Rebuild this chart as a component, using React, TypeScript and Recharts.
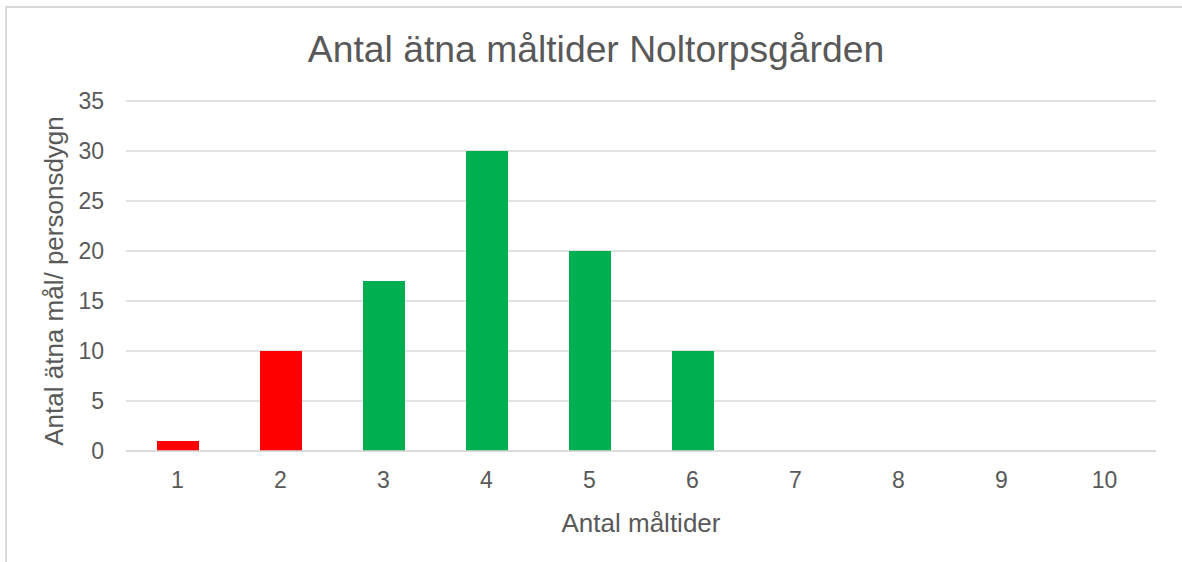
import React from 'react';
import { BarChart, Bar, XAxis, YAxis, CartesianGrid, Cell } from 'recharts';

const categories = ['1', '2', '3', '4', '5', '6', '7', '8', '9', '10'];
const mealCounts = [1, 10, 17, 30, 20, 10, 0, 0, 0, 0];
const yTicks = [0, 5, 10, 15, 20, 25, 30, 35];

const title = 'Antal ätna måltider Noltorpsgården';
const xTitle = 'Antal måltider';
const yTitle = 'Antal ätna mål/ personsdygn';

const RED = '#FF0000';
const GREEN = '#00B050';
const TEXT = '#595959';
const GRID = '#D9D9D9';
const FONT = '"Liberation Sans", Arial, sans-serif';

const data = categories.map((c, i) => ({ name: c, value: mealCounts[i] }));

const App: React.FC = () => {
  return (
    <div style={{ position: 'absolute', left: 0, top: 0, width: 1182, height: 562, overflow: 'hidden', background: '#fff', fontFamily: FONT }}>
      <div style={{ position: 'absolute', left: 5, top: 6, width: 1300, height: 700, border: `2px solid ${GRID}`, boxSizing: 'border-box' }} />
      <svg width={1182} height={80} style={{ position: 'absolute', left: 0, top: 0 }}>
        <text x={596} y={62} textAnchor="middle" fill={TEXT} fontSize={37.3} fontFamily={FONT}>
          {title}
        </text>
      </svg>
      <div style={{ position: 'absolute', left: 0, top: 0 }}>
        <BarChart width={1182} height={562} data={data} margin={{ top: 101, right: 26, bottom: 0, left: 10 }} barSize={42}>
          <CartesianGrid vertical={false} stroke={GRID} strokeWidth={1.5} />
          <XAxis
            dataKey="name"
            height={111}
            axisLine={{ stroke: GRID, strokeWidth: 1.5 }}
            tickLine={false}
            tickMargin={15}
            tick={{ fill: TEXT, fontSize: 23, fontFamily: FONT }}
            label={{ value: xTitle, position: 'insideBottom', offset: 30, fill: TEXT, fontSize: 26, fontFamily: FONT }}
          />
          <YAxis
            width={116}
            domain={[0, 35]}
            ticks={yTicks}
            axisLine={false}
            tickLine={false}
            tickMargin={16}
            tick={{ fill: TEXT, fontSize: 23, fontFamily: FONT }}
            label={{ value: yTitle, angle: -90, position: 'center', dx: -14.5, dy: 5, fill: TEXT, fontSize: 26, fontFamily: FONT }}
          />
          <Bar dataKey="value" isAnimationActive={false}>
            {data.map((d, i) => (
              <Cell key={d.name} fill={i < 2 ? RED : GREEN} />
            ))}
          </Bar>
        </BarChart>
      </div>
    </div>
  );
};

export default App;
